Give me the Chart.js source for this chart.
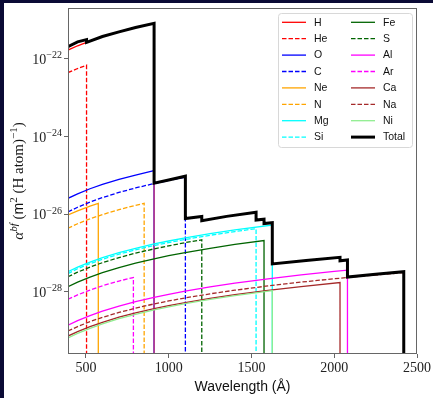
<!DOCTYPE html>
<html>
<head>
<meta charset="utf-8">
<script src="https://cdn.jsdelivr.net/npm/chart.js@4.4.1/dist/chart.umd.min.js"></script>
<style>
html, body { margin: 0; padding: 0; background: #fff; }
</style>
</head>
<body>
<canvas id="chart" width="433" height="398"></canvas>
<script>
// ejes
const xRange = [392, 2500];
const yRange = [2.5e-30, 2.06e-21];
const xTicks = [500, 1000, 1500, 2000, 2500];
const yTickExps = [-22, -24, -26, -28];
const floorValue = 1e-31; // caida vertical en cada borde

// longitudes de onda (A) y coeficientes
const H_wl = [392, 450, 504, 600, 700, 800, 912, 912];
const H_val = [1.70e-22, 2.19e-22, 2.69e-22, 3.80e-22, 5.01e-22, 6.46e-22, 8.32e-22, floorValue];
const He_wl = [392, 450, 504, 504];
const He_val = [4.47e-23, 5.68e-23, 6.92e-23, floorValue];
const O_wl = [392, 450, 525, 600, 700, 800, 911, 911];
const O_val = [2.57e-26, 3.36e-26, 4.53e-26, 5.86e-26, 7.94e-26, 1.02e-25, 1.32e-25, floorValue];
const C_wl = [392, 450, 525, 600, 700, 800, 912, 1000, 1101, 1101];
const C_val = [1.15e-26, 1.51e-26, 2.06e-26, 2.68e-26, 3.64e-26, 4.75e-26, 6.17e-26, 7.40e-26, 9.0e-26, floorValue];
const Ne_wl = [392, 450, 525, 575, 575];
const Ne_val = [9.55e-27, 1.22e-26, 1.62e-26, 1.91e-26, floorValue];
const N_wl = [392, 450, 525, 600, 700, 800, 852, 852];
const N_val = [4.37e-27, 5.68e-27, 7.60e-27, 9.79e-27, 1.31e-26, 1.69e-26, 1.91e-26, floorValue];
const Mg_wl = [392, 450, 525, 600, 700, 800, 912, 1000, 1100, 1250, 1400, 1626, 1626];
const Mg_val = [3.31e-28, 4.33e-28, 5.83e-28, 7.57e-28, 1.02e-27, 1.32e-27, 1.71e-27, 2.04e-27, 2.45e-27, 3.15e-27, 3.93e-27, 5.25e-27, floorValue];
const Si_wl = [392, 450, 525, 600, 700, 800, 912, 1000, 1100, 1250, 1400, 1528, 1528];
const Si_val = [2.95e-28, 3.94e-28, 5.32e-28, 6.90e-28, 9.31e-28, 1.21e-27, 1.56e-27, 1.86e-27, 2.24e-27, 2.87e-27, 3.58e-27, 4.24e-27, floorValue];
const Fe_wl = [392, 450, 525, 600, 700, 800, 912, 1000, 1100, 1250, 1400, 1576, 1576];
const Fe_val = [1.35e-28, 1.77e-28, 2.40e-28, 3.12e-28, 4.23e-28, 5.50e-28, 7.11e-28, 8.53e-28, 1.03e-27, 1.32e-27, 1.66e-27, 2.09e-27, floorValue];
const S_wl = [392, 450, 525, 600, 700, 800, 912, 1000, 1100, 1200, 1200];
const S_val = [2.45e-28, 3.21e-28, 4.35e-28, 5.64e-28, 7.62e-28, 9.91e-28, 1.28e-27, 1.53e-27, 1.85e-27, 2.19e-27, floorValue];
const Al_wl = [392, 450, 525, 600, 700, 800, 912, 1000, 1100, 1250, 1400, 1600, 1800, 2000, 2080, 2080];
const Al_val = [1.38e-29, 1.81e-29, 2.45e-29, 3.18e-29, 4.31e-29, 5.58e-29, 7.23e-29, 8.65e-29, 1.04e-28, 1.34e-28, 1.67e-28, 2.17e-28, 2.74e-28, 3.37e-28, 3.63e-28, floorValue];
const Ar_wl = [392, 450, 525, 600, 700, 787, 787];
const Ar_val = [6.46e-29, 8.34e-29, 1.11e-28, 1.43e-28, 1.90e-28, 2.34e-28, floorValue];
const Ca_wl = [392, 450, 525, 600, 700, 800, 912, 1000, 1100, 1250, 1400, 1600, 1800, 2035, 2035];
const Ca_val = [7.24e-30, 9.46e-30, 1.27e-29, 1.64e-29, 2.22e-29, 2.87e-29, 3.69e-29, 4.42e-29, 5.30e-29, 6.78e-29, 8.43e-29, 1.09e-28, 1.37e-28, 1.74e-28, floorValue];
const Na_wl = [392, 450, 525, 600, 700, 800, 912, 1000, 1100, 1250, 1400, 1600, 1800, 2000, 2200, 2420, 2420];
const Na_val = [9.77e-30, 1.27e-29, 1.71e-29, 2.20e-29, 2.94e-29, 3.80e-29, 4.88e-29, 5.81e-29, 6.97e-29, 8.89e-29, 1.10e-28, 1.42e-28, 1.78e-28, 2.17e-28, 2.61e-28, 3.13e-28, floorValue];
const Ni_wl = [392, 450, 525, 600, 700, 800, 912, 1000, 1100, 1250, 1400, 1626, 1626];
const Ni_val = [6.46e-30, 8.47e-30, 1.15e-29, 1.50e-29, 2.03e-29, 2.64e-29, 3.42e-29, 4.10e-29, 4.95e-29, 6.38e-29, 7.98e-29, 1.07e-28, floorValue];
const Total_wl = [392, 450, 504, 504, 600, 700, 800, 912, 912, 1000, 1101, 1101, 1200, 1200, 1350, 1528, 1528, 1576, 1576,
  1626, 1626, 1830, 2035, 2035, 2080, 2080, 2250, 2420, 2420];
const Total_val = [2.09e-22, 2.76e-22, 3.16e-22, 2.69e-22, 3.80e-22, 5.01e-22, 6.46e-22, 8.32e-22, 6.31e-26, 7.6e-26, 9.55e-26, 7.76e-27,
  8.71e-27, 6.76e-27, 8.8e-27, 1.12e-26, 7.08e-27, 7.41e-27, 5.75e-27, 6.03e-27, 5.25e-28, 6.46e-28, 7.76e-28, 6.31e-28, 6.61e-28,
  2.40e-28, 2.82e-28, 3.31e-28, floorValue];

const names = ['H', 'He', 'O', 'C', 'Ne', 'N', 'Mg', 'Si', 'Fe', 'S', 'Al', 'Ar', 'Ca', 'Na', 'Ni', 'Total'];
const wls = [H_wl, He_wl, O_wl, C_wl, Ne_wl, N_wl, Mg_wl, Si_wl, Fe_wl, S_wl, Al_wl, Ar_wl, Ca_wl, Na_wl, Ni_wl, Total_wl];
const vals = [H_val, He_val, O_val, C_val, Ne_val, N_val, Mg_val, Si_val, Fe_val, S_val, Al_val, Ar_val, Ca_val, Na_val, Ni_val, Total_val];

// estilos
const colors = ['#ff0000', '#ff0000', '#0000ff', '#0000ff', '#ffa500', '#ffa500', '#00ffff', '#00ffff',
  '#006400', '#006400', '#ff00ff', '#ff00ff', '#a52a2a', '#a52a2a', '#90ee90', '#000000'];
const dashed = [false, true, false, true, false, true, false, true, false, true, false, true, false, true, false, false];
const axisColor = '#666';
const serif = '"Liberation Serif", "DejaVu Serif", serif';
const sans = '"Liberation Sans", "DejaVu Sans", sans-serif';

const datasets = names.map((n, i) => ({
  label: n,
  data: wls[i].map((x, j) => ({ x: x, y: vals[i][j] })),
  borderColor: colors[i],
  borderWidth: n === 'Total' ? 3 : 1.3,
  borderDash: dashed[i] ? [4.5, 2] : [],
  pointRadius: 0,
  showLine: true,
  fill: false,
  tension: 0,
  order: names.length - i,
  segment: n === 'O' ? { borderColor: c => c.p0.parsed.x === c.p1.parsed.x ? '#7a3cc8' : undefined } : undefined
}));

const decoPlugin = {
  id: 'deco',
  beforeDraw(chart) {
    const ctx = chart.ctx;
    ctx.save();
    ctx.fillStyle = '#ffffff';
    ctx.fillRect(0, 0, chart.width, chart.height);
    ctx.fillStyle = '#0a0a35';
    ctx.fillRect(0, 0, chart.width, 3);
    ctx.fillRect(0, 0, 4, chart.height);
    ctx.restore();
  },
  afterDraw(chart) {
    const ctx = chart.ctx;
    const a = chart.chartArea;
    const yScale = chart.scales.y;
    ctx.save();

    // marco
    ctx.strokeStyle = axisColor;
    ctx.lineWidth = 1;
    ctx.setLineDash([]);
    ctx.strokeRect(Math.round(a.left) + 0.5, Math.round(a.top) + 0.5, Math.round(a.right - a.left) - 1, Math.round(a.bottom - a.top) - 1);

    // etiquetas del eje y: 10^n
    ctx.fillStyle = '#222';
    ctx.textBaseline = 'alphabetic';
    yTickExps.forEach(e => {
      const py = yScale.getPixelForValue(Math.pow(10, e));
      const sup = '\u2212' + String(-e);
      ctx.font = '10px ' + serif;
      const ws = ctx.measureText(sup).width;
      ctx.font = '14px ' + serif;
      const wm = ctx.measureText('10').width;
      const right = a.left - 6;
      ctx.textAlign = 'left';
      ctx.fillText('10', right - ws - wm, py + 5);
      ctx.font = '10px ' + serif;
      ctx.fillText(sup, right - ws, py - 0.5);
    });

    // titulo eje x
    ctx.font = '14px ' + sans;
    ctx.textAlign = 'center';
    ctx.textBaseline = 'middle';
    ctx.fillStyle = '#111';
    ctx.fillText('Wavelength (\u00c5)', (a.left + a.right) / 2, 387);

    // titulo eje y
    const pieces = [
      { t: '\u03b1', f: 'italic 15px ' + serif, r: 0 },
      { t: 'bf', f: 'italic 11px ' + serif, r: 6 },
      { t: ' (', f: '15px ' + serif, r: 0 },
      { t: 'm', f: '14px ' + sans, r: 0 },
      { t: '2', f: '11px ' + serif, r: 6 },
      { t: ' (H atom)', f: '15px ' + serif, r: 0 },
      { t: '\u22121', f: '11px ' + serif, r: 6 },
      { t: ')', f: '15px ' + serif, r: 0 }
    ];
    let total = 0;
    pieces.forEach(p => { ctx.font = p.f; p.w = ctx.measureText(p.t).width; total += p.w; });
    ctx.translate(23, (a.top + a.bottom) / 2);
    ctx.rotate(-Math.PI / 2);
    ctx.textAlign = 'left';
    ctx.textBaseline = 'alphabetic';
    let px = -total / 2;
    pieces.forEach(p => { ctx.font = p.f; ctx.fillText(p.t, px, -p.r); px += p.w; });
    ctx.setTransform(1, 0, 0, 1, 0, 0);

    // leyenda
    const bx = 278.5, by = 13.5, bw = 134, bh = 134;
    ctx.beginPath();
    ctx.roundRect(bx, by, bw, bh, 3);
    ctx.fillStyle = 'rgba(255,255,255,0.9)';
    ctx.fill();
    ctx.strokeStyle = '#d8d8d8';
    ctx.lineWidth = 1;
    ctx.stroke();
    ctx.font = '10.5px ' + sans;
    ctx.textAlign = 'left';
    ctx.textBaseline = 'middle';
    chart.data.datasets.forEach((ds, i) => {
      const col = i < 8 ? 0 : 1;
      const row = i % 8;
      const ly = 22.3 + row * 16.4;
      const x0 = col === 0 ? 282 : 351;
      ctx.beginPath();
      ctx.strokeStyle = ds.borderColor;
      ctx.lineWidth = ds.borderWidth;
      ctx.setLineDash(ds.borderDash);
      ctx.moveTo(x0, ly);
      ctx.lineTo(x0 + 24, ly);
      ctx.stroke();
      ctx.setLineDash([]);
      ctx.fillStyle = '#111';
      ctx.fillText(ds.label, x0 + 32, ly + 0.5);
    });
    ctx.restore();
  }
};

new Chart(document.getElementById('chart').getContext('2d'), {
  type: 'scatter',
  data: { datasets: datasets },
  options: {
    responsive: false,
    animation: false,
    devicePixelRatio: 1,
    layout: { padding: { left: 0, top: 8, right: 16, bottom: 0 } },
    plugins: { legend: { display: false }, tooltip: { enabled: false } },
    scales: {
      x: {
        type: 'linear',
        min: xRange[0],
        max: xRange[1],
        afterBuildTicks: s => { s.ticks = xTicks.map(v => ({ value: v })); },
        afterFit: s => { s.height = 44; },
        ticks: {
          font: { family: serif, size: 14 },
          color: '#222',
          padding: 2,
          maxRotation: 0,
          autoSkip: false,
          callback: v => String(v)
        },
        grid: { drawOnChartArea: false, drawTicks: true, tickLength: 4, color: axisColor },
        border: { display: false }
      },
      y: {
        type: 'logarithmic',
        min: yRange[0],
        max: yRange[1],
        afterBuildTicks: s => { s.ticks = yTickExps.map(e => ({ value: Math.pow(10, e) })); },
        afterFit: s => { s.width = 68; },
        ticks: { display: false },
        grid: { drawOnChartArea: false, drawTicks: true, tickLength: 4, color: axisColor },
        border: { display: false }
      }
    }
  },
  plugins: [decoPlugin]
});
</script>
</body>
</html>
